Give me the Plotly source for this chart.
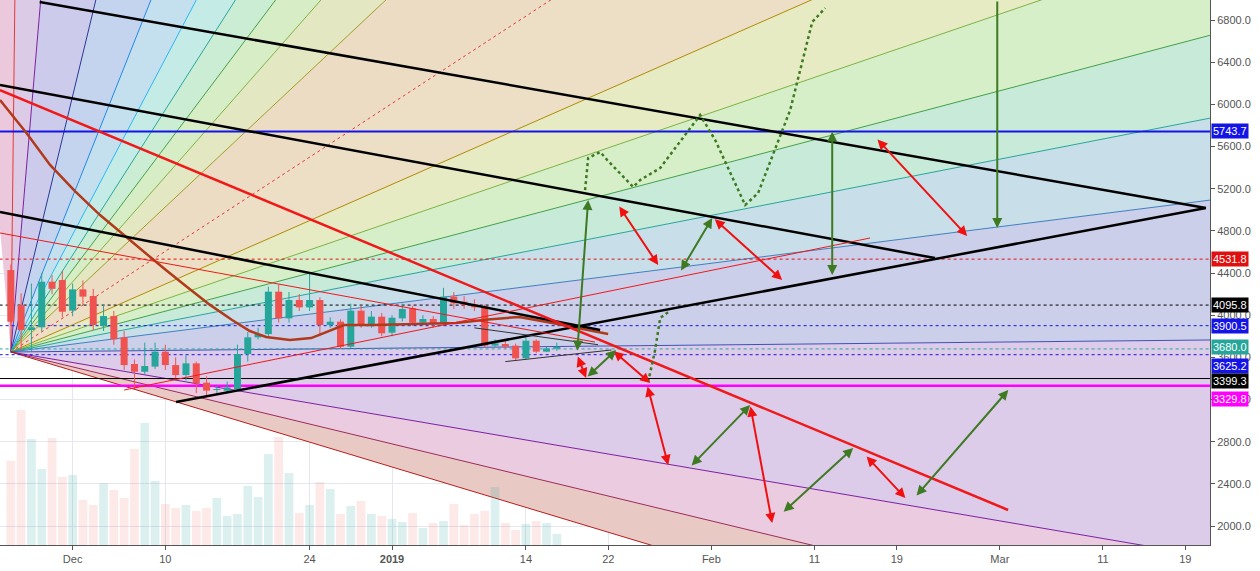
import pandas as pd
import plotly.graph_objects as go

BASE = pd.Timestamp("2018-12-01")


def day(d):
    return BASE + pd.Timedelta(days=d)


# candles, one per day starting Nov 25
opens = [4428, 4096, 3859, 3885, 4318, 4334, 4043, 4245, 4182, 3897, 3992, 3790, 3537, 3464,
         3512, 3654, 3527, 3432, 3543, 3360, 3290, 3284, 3300, 3632, 3790, 3821, 4223, 3970,
         4144, 4074, 4144, 3907, 3938, 3701, 4043, 3907, 3986, 3834, 3970, 4065, 3929, 3964,
         3916, 4176, 4128, 4106, 4087, 3711, 3727, 3711, 3591, 3758, 3654, 3682]
closes = [3938, 3859, 3885, 4318, 4250, 4033, 4245, 4176, 3907, 3992, 3771, 3527, 3464, 3518,
          3654, 3527, 3432, 3543, 3353, 3284, 3296, 3315, 3632, 3790, 3821, 4223, 3970, 4144,
          4074, 4144, 3907, 3938, 3701, 4043, 3907, 3986, 3828, 3976, 4059, 3929, 3964, 3916,
          4176, 4112, 4096, 4074, 3711, 3733, 3701, 3591, 3758, 3654, 3685, 3701]
highs = [4480, 4207, 4300, 4400, 4380, 4420, 4300, 4330, 4250, 4100, 4040, 3850, 3580, 3740,
         3740, 3720, 3600, 3620, 3560, 3420, 3330, 3370, 3720, 3840, 3880, 4270, 4290, 4220,
         4200, 4397, 4170, 3980, 3960, 4110, 4090, 4040, 4020, 4000, 4110, 4090, 4000, 3990,
         4260, 4220, 4180, 4150, 4100, 3770, 3760, 3730, 3790, 3770, 3700, 3740]
lows = [3900, 3670, 3660, 3850, 4200, 3980, 3990, 4100, 3860, 3850, 3720, 3480, 3300, 3440,
        3490, 3480, 3400, 3380, 3260, 3230, 3250, 3270, 3280, 3560, 3770, 3800, 3930, 3930,
        4040, 4040, 3800, 3880, 3680, 3690, 3880, 3880, 3800, 3800, 3940, 3900, 3900, 3880,
        3900, 4060, 4060, 4040, 3690, 3700, 3680, 3570, 3580, 3640, 3650, 3660]
volumes = [253, 405, 318, 228, 321, 204, 210, 135, 120, 185, 165, 141, 288, 366, 192, 123, 111,
           120, 102, 111, 141, 87, 93, 177, 144, 273, 324, 216, 96, 120, 189, 168, 93, 117, 132,
           93, 87, 78, 69, 96, 51, 66, 72, 123, 60, 93, 102, 174, 66, 45, 63, 72, 66, 33]
candle_days = list(range(-6, -6 + len(opens)))

# gann fan: origin and ray directions (days, price)
fan_origin = (-6.0, 3651)
fan_dirs = [(-3, 3339), (0.39, 3339), (2.9, 3339), (8.25, 3339), (13.6, 3339), (18, 3339),
            (21.8, 3339), (25.7, 3339), (30.1, 3339), (36.4, 3339), (52.4, 3339), (77.7, 3339),
            (100, 3339), (116.5, 3007), (116.5, 2220), (116.5, 1442), (116.5, 114),
            (109.7, -1831), (77.7, -1831), (62.1, -1831)]
fan_line_colors = [None, "#e53935", "#7b1fa2", "#283593", "#1e88e5", "#29b6f6", "#26a69a",
                   "#43a047", "#7cb342", "#9e9d24", "#e53935", "#b08a00", "#7cb342", "#43a047",
                   "#26a69a", "#3f7fbf", "#3f51b5", "#7b1fa2", "#9c2a5a", "#b71c1c"]
fan_fills = ["#ecc8dc", "#dccbe6", "#cdcbec", "#c4d4ef", "#c4e0ef", "#c4ebe6", "#cbedd4",
             "#d6edc6", "#e3e8c2", "#ecdcc4", "#eddfc6", "#e6ebc4", "#d6efc8", "#c8ead9",
             "#c8dfe9", "#cccfea", "#dccbe9", "#ebcbe0", "#e9c9c4"]

# drawn trend lines: (day0, price0, day1, price1, color, width)
trend_lines = [
    (-3.2, 6971, 110, 5017, "black", 2.5),
    (-7.05, 6183, 83.7, 4542, "black", 2.5),
    (-7.05, 4979, 51.2, 3859, "black", 2.5),
    (10.04, 3176, 110, 5017, "black", 2.5),
    (42.0, 3560, 52.3, 3670, "#333333", 1),
    (39.0, 3880, 51.0, 3720, "#333333", 1),
    (-7.05, 6136, 90.8, 2152, "#f01818", 2.5),
    (-7.05, 4780, 50.7, 3745, "#f01818", 1),
    (5.0, 3290, 77.4, 4732, "#f01818", 1),
]
ma_days = [-7.05, -4.5, -2.19, 0.2, 2.66, 4.6, 6.64, 8.9, 11.11, 13.3, 15.48, 17.2, 18.78,
           21.1, 23.15, 24.8, 26.35, 29.17, 33.24, 37.23, 40.3, 43.34, 46.55, 51.98]
ma_prices = [6041, 5730, 5425, 5180, 4950, 4790, 4618, 4440, 4267, 4100, 3954, 3850, 3793,
             3764, 3783, 3850, 3907, 3907, 3916, 3926, 3960, 3983, 3926, 3821]

# horizontal levels
levels = [5743.7, 4531.8, 4095.8, 3900.5, 3680.0, 3625.2, 3399.3, 3329.8]
level_colors = ["#1414e6", "#e01010", "#000000", "#1414e6", "#26a69a", "#1414e6", "#000000", "#ff00ff"]
level_dash = ["solid", "dot", "dot", "dot", "dot", "dot", "solid", "solid"]
level_width = [2, 1, 1, 1, 1, 1, 1, 2.5]
label_shift = [0, 0, 0, 0, 2, -11, -2, -13]

red_arrows = [(48.98, 3622, 49.84, 3404), (52.96, 5045, 56.84, 4476), (62.18, 4922, 68.87, 4334),
              (77.99, 5681, 86.83, 4751), (55.77, 3338, 57.81, 2579), (65.77, 3148, 67.9, 2028),
              (76.93, 2674, 80.83, 2266), (52.37, 3670, 56.06, 3357)]
green_arrows = [(48.98, 3651, 50.04, 5093), (49.84, 3404, 52.76, 3670), (58.97, 4410, 62.08, 4922),
                (73.73, 5757, 73.73, 4381), (59.94, 2560, 65.77, 3148), (68.87, 2123, 75.77, 2740),
                (81.79, 2275, 90.82, 3290)]
green_down = (89.75, 6990, 89.75, 4827)
path1_days = [55.86, 56.54, 57.03, 57.81]
path1_prices = [3366, 3670, 3973, 4030]
path2_days = [49.74, 50.04, 51.21, 51.89, 54.41, 55.09, 57.03, 60.91, 62.37, 65.28, 66.54,
              69.65, 71.79, 73.05]
path2_prices = [5187, 5491, 5548, 5472, 5216, 5282, 5396, 5899, 5662, 5045, 5159, 5946, 6781, 6914]

tick_days = ["2018-12-01", "2018-12-10", "2018-12-24", "2019-01-01", "2019-01-14", "2019-01-22",
             "2019-02-01", "2019-02-11", "2019-02-19", "2019-03-01", "2019-03-11", "2019-03-19"]
tick_text = ["Dec", "10", "24", "<b>2019</b>", "14", "22", "Feb", "11", "19", "Mar", "11", "19"]
price_ticks = list(range(2000, 7000, 400))

fig = go.Figure()
K = 20
ox, oy = fan_origin
for i in range(len(fan_dirs) - 1):
    a, b = fan_dirs[i], fan_dirs[i + 1]
    fig.add_trace(go.Scatter(
        x=[day(ox), day(ox + K * a[0]), day(ox + K * b[0]), day(ox)],
        y=[oy, oy + K * a[1], oy + K * b[1], oy],
        fill="toself", fillcolor=fan_fills[i], mode="lines", line=dict(width=0),
        hoverinfo="skip", showlegend=False))
for i, dr in enumerate(fan_dirs):
    if fan_line_colors[i] is None:
        continue
    fig.add_trace(go.Scatter(
        x=[day(ox), day(ox + K * dr[0])], y=[oy, oy + K * dr[1]], mode="lines",
        line=dict(color=fan_line_colors[i], width=1, dash="dot" if i == 10 else "solid"),
        hoverinfo="skip", showlegend=False))

for lv, c, ds, w in zip(levels, level_colors, level_dash, level_width):
    fig.add_trace(go.Scatter(x=[day(-10), day(130)], y=[lv, lv], mode="lines",
                             line=dict(color=c, dash=ds, width=w), hoverinfo="skip", showlegend=False))

# candles drawn as wick lines + thick body lines
up = [c >= o for o, c in zip(opens, closes)]
cdates = [day(d) for d in candle_days]
for flag, col in [(True, "#26a69a"), (False, "#ef5350")]:
    wx, wy, bx, by = [], [], [], []
    for k in range(len(opens)):
        if up[k] == flag:
            wx += [cdates[k], cdates[k], None]
            wy += [lows[k], highs[k], None]
            lo, hi = min(opens[k], closes[k]), max(opens[k], closes[k])
            if hi - lo < 10:
                hi = lo + 10
            bx += [cdates[k], cdates[k], None]
            by += [lo, hi, None]
    fig.add_trace(go.Scatter(x=wx, y=wy, mode="lines", line=dict(color=col, width=1),
                             hoverinfo="skip", showlegend=False))
    fig.add_trace(go.Scatter(x=bx, y=by, mode="lines", line=dict(color=col, width=7),
                             hoverinfo="skip", showlegend=False))

fig.add_trace(go.Scatter(x=[day(d) for d in ma_days], y=ma_prices, mode="lines",
                         line=dict(color="#b03a1a", width=2.5), showlegend=False))

for d0, p0, d1, p1, c, w in trend_lines:
    fig.add_trace(go.Scatter(x=[day(d0), day(d1)], y=[p0, p1], mode="lines",
                             line=dict(color=c, width=w), showlegend=False))

for dd, pp in [(path1_days, path1_prices), (path2_days, path2_prices)]:
    fig.add_trace(go.Scatter(x=[day(d) for d in dd], y=pp, mode="lines",
                             line=dict(color="#3d7a22", width=2.5, dash="dot"), showlegend=False))

vol_colors = ["rgba(38,166,154,0.16)" if u else "rgba(239,83,80,0.13)" for u in up]
fig.add_trace(go.Bar(x=cdates, y=volumes, marker_color=vol_colors, marker_line_width=0,
                     yaxis="y2", showlegend=False, width=0.85 * 86400000))

annotations = []
for arrows, col in [(red_arrows, "#f01010"), (green_arrows, "#3d7a22")]:
    for d0, p0, d1, p1 in arrows:
        annotations.append(dict(x=day(d1), y=p1, ax=day(d0), ay=p0, xref="x", yref="y", axref="x",
                                ayref="y", text="", showarrow=True, arrowhead=2, startarrowhead=2,
                                arrowside="end+start", arrowwidth=2, arrowcolor=col,
                                arrowsize=1, startarrowsize=1))
d0, p0, d1, p1 = green_down
annotations.append(dict(x=day(d1), y=p1, ax=day(d0), ay=p0, xref="x", yref="y", axref="x", ayref="y",
                        text="", showarrow=True, arrowhead=2, arrowwidth=2, arrowcolor="#3d7a22"))
for lv, c, sh in zip(levels, level_colors, label_shift):
    annotations.append(dict(x=1.0, y=lv, xref="paper", yref="y", xanchor="left", yanchor="middle",
                            text=f"{lv:.1f}", showarrow=False, bgcolor=c, borderpad=1,
                            font=dict(color="white", size=11, family="Arial"), xshift=1, yshift=sh))

fig.update_layout(
    width=1260, height=571, margin=dict(l=0, r=50, t=0, b=26),
    plot_bgcolor="white", paper_bgcolor="white", annotations=annotations,
    font=dict(family="Arial", size=11, color="#555"),
    xaxis=dict(range=[day(-7.05), day(110.4)], tickvals=tick_days, ticktext=tick_text,
               showgrid=True, gridcolor="#e4e7ee", automargin=False,
               ticks="outside", ticklen=4, tickcolor="#555", showline=True, linecolor="#555"),
    yaxis=dict(range=[1820, 6990], side="right", tickvals=price_ticks, automargin=False,
               ticktext=[f"{v:.1f}" for v in price_ticks], showgrid=True, gridcolor="#e4e7ee",
               ticks="outside", ticklen=4, tickcolor="#555", showline=True, linecolor="#555",
               zeroline=False),
    yaxis2=dict(range=[0, 1635], overlaying="y", visible=False),
)
fig.write_html("out.html", config={"displayModeBar": False},
               post_script="document.body.style.margin='0';")
